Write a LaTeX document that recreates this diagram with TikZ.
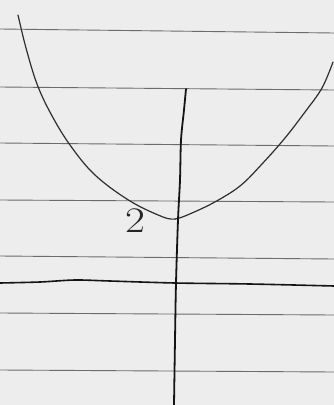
\documentclass[tikz,border=0pt]{standalone}
\begin{document}
\begin{tikzpicture}[x=1pt,y=-1pt,
  ruled/.style={draw=black!58,line width=0.9pt},
  curve/.style={draw=black!82,line width=1.2pt,line cap=round,line join=round},
  axis/.style={draw=black!92,line width=1.8pt,line cap=round,line join=round},
  lbl/.style={font=\fontsize{36}{36}\selectfont,text=black!85,inner sep=0pt,xscale=1.2}]
\fill[white!93!black] (0,0) rectangle (334,405);
\useasboundingbox (0,0) rectangle (334,405);
% ruled lines
\foreach \a/\b in {29/33,87/90,143/146,200/202,256/259,313/315,370/372}
  \draw[ruled] (0,\a) -- (334,\b);
% coordinates
\coordinate (pl) at (18,15);
\coordinate (pv) at (175,219);
\coordinate (pr) at (333,62);
\coordinate (yt) at (186,89);
\coordinate (yb) at (174,405);
\coordinate (xl) at (0,283);
\coordinate (xr) at (334,286);
% parabola
\draw[curve] plot[smooth,tension=0.6] coordinates {(pl) (26,48) (37,84) (51,114) (70,145) (95,175) (130,201) (163,217) (pv)};
\draw[curve] plot[smooth,tension=0.6] coordinates {(pv) (185,216) (213,203) (240,186) (262,164) (285,138) (305,112) (322,88) (pr)};
% axes
\draw[axis] plot[smooth,tension=0.5] coordinates {(yt) (184,110) (181,140) (180,180) (178,220) (176,283) (175,340) (yb)};
\draw[axis,line width=1.6pt] plot[smooth,tension=0.5] coordinates {(xl) (40,282) (75,280) (110,281) (175,283) (250,284) (xr)};
% label
\node[lbl] (two) at (135,221) {2};
\end{tikzpicture}
\end{document}
